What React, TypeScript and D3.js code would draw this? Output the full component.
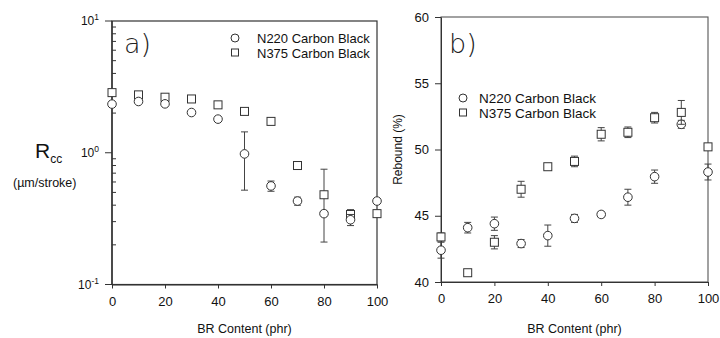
import React, { useRef, useEffect } from "react";
import * as d3 from "d3";

// BR content (phr), same for both panels
const brContent = [0, 10, 20, 30, 40, 50, 60, 70, 80, 90, 100];
const xTicks = [0, 20, 40, 60, 80, 100];

// panel a) abrasion rate Rcc (µm/stroke), log scale
const rccN220 = [2.34, 2.45, 2.35, 2.02, 1.8, 0.98, 0.56, 0.43, 0.345, 0.31, 0.43];
const rccN220Err = [0.08, 0.04, 0.04, 0, 0, 0.46, 0.05, 0.03, 0.015, 0.03, 0];
const rccN375 = [2.86, 2.75, 2.64, 2.56, 2.31, 2.06, 1.73, 0.8, 0.48, 0.34, 0.345];
const rccN375Err = [0.08, 0.1, 0.1, 0, 0, 0, 0, 0.05, 0.27, 0.03, 0];
const rccTicks = [0.1, 1, 10];
const rccTickExp = ["-1", "0", "1"];

// panel b) rebound (%)
const rebN220 = [42.4, 44.1, 44.4, 42.9, 43.5, 44.8, 45.1, 46.4, 47.95, 51.9, 48.3];
const rebN220Err = [0.6, 0.4, 0.5, 0.3, 0.8, 0.3, 0.2, 0.6, 0.5, 0.3, 0.6];
const rebN375 = [43.4, 40.7, 43.0, 47.0, 48.7, 49.1, 51.15, 51.3, 52.4, 52.8, 50.2];
const rebN375Err = [0.3, 0, 0.5, 0.6, 0, 0.4, 0.5, 0.4, 0.4, 0.9, 0];
const rebTicks = [40, 45, 50, 55, 60];

const seriesNames = ["N220 Carbon Black", "N375 Carbon Black"];

const FONT = "'Liberation Sans', Arial, sans-serif";
const INK = "#333";

const App: React.FC = () => {
    const svgRef = useRef<SVGSVGElement | null>(null);

    useEffect(() => {
        if (!svgRef.current) return;
        const width = 720;
        const height = 338;

        const svg = d3.select(svgRef.current)
            .attr("width", width)
            .attr("height", height)
            .attr("viewBox", `0 0 ${width} ${height}`)
            .style("position", "absolute")
            .style("left", "0px")
            .style("top", "0px")
            .style("background", "#fff")
            .style("font-family", FONT);

        svg.selectAll("*").remove();

        // scales
        const xL = d3.scaleLinear().domain([0, 100]).range([112, 377]);
        const yL = d3.scaleLog().domain([0.1, 10]).range([284.5, 21]);
        const xR = d3.scaleLinear().domain([0, 100]).range([441, 708]);
        const yR = d3.scaleLinear().domain([40, 60]).range([282, 17]);

        const styleAxis = (g: any) => {
            g.attr("font-family", FONT).attr("font-size", 13);
            g.selectAll("line").attr("stroke", INK);
            g.selectAll(".domain").attr("stroke", INK);
            g.selectAll("text").attr("fill", "#111");
        };

        // ---------- panel a ----------
        const a = svg.append("g");

        // box
        a.append("rect")
            .attr("x", xL(0)).attr("y", yL(10))
            .attr("width", xL(100) - xL(0)).attr("height", yL(0.1) - yL(10))
            .attr("fill", "none").attr("stroke", INK).attr("stroke-width", 1.2);

        a.append("g")
            .attr("transform", `translate(0,${yL(0.1)})`)
            .call(d3.axisBottom(xL).tickValues(xTicks).tickSize(4).tickPadding(8).tickSizeOuter(0))
            .call(styleAxis);

        // log y axis: major outward, minor inward
        const yAxisA = a.append("g").attr("transform", `translate(${xL(0)},0)`);
        yAxisA.append("line")
            .attr("y1", yL(10)).attr("y2", yL(0.1))
            .attr("stroke", INK).attr("stroke-width", 1.4);
        yAxisA.selectAll("line.major")
            .data(rccTicks)
            .join("line")
            .attr("class", "major")
            .attr("x1", -7).attr("x2", 0)
            .attr("y1", d => yL(d)).attr("y2", d => yL(d))
            .attr("stroke", INK);
        const minor = d3.range(2, 10).flatMap(m => [m * 0.1, m * 1]);
        yAxisA.selectAll("line.minor")
            .data(minor)
            .join("line")
            .attr("class", "minor")
            .attr("x1", 0).attr("x2", 4)
            .attr("y1", d => yL(d)).attr("y2", d => yL(d))
            .attr("stroke", INK);
        const tl = yAxisA.selectAll("text.tick")
            .data(rccTicks)
            .join("text")
            .attr("class", "tick")
            .attr("x", -13)
            .attr("y", d => yL(d) + 4)
            .attr("text-anchor", "end")
            .attr("font-size", 12)
            .attr("fill", "#111");
        tl.append("tspan").text("10");
        tl.append("tspan")
            .attr("dy", -5)
            .attr("font-size", 8.5)
            .text((_, i) => rccTickExp[i]);

        // y title R_cc
        const rt = a.append("text").attr("x", 35).attr("y", 158).attr("fill", "#111");
        rt.append("tspan").attr("font-size", 21).text("R");
        rt.append("tspan").attr("font-size", 12).attr("dy", 5).text("cc");
        a.append("text")
            .attr("x", 13).attr("y", 187)
            .attr("font-size", 12.5)
            .attr("fill", "#111")
            .text("(µm/stroke)");

        a.append("text")
            .attr("x", (xL(0) + xL(100)) / 2).attr("y", 333)
            .attr("text-anchor", "middle")
            .attr("font-size", 12.5)
            .attr("fill", "#111")
            .text("BR Content (phr)");

        a.append("text")
            .attr("x", 124).attr("y", 53)
            .attr("font-family", "'DejaVu Sans', sans-serif")
            .attr("font-weight", 200)
            .attr("font-size", 27)
            .attr("fill", "#222")
            .text("a)");

        drawSeries(a, xL, yL, rccN375, rccN375Err, "square");
        drawSeries(a, xL, yL, rccN220, rccN220Err, "circle");
        drawLegend(a, 235, 38, 257, 13);

        // ---------- panel b ----------
        const b = svg.append("g");

        b.append("rect")
            .attr("x", xR(0)).attr("y", yR(60))
            .attr("width", xR(100) - xR(0)).attr("height", yR(40) - yR(60))
            .attr("fill", "none").attr("stroke", "#555").attr("stroke-width", 1.1);

        b.append("g")
            .attr("transform", `translate(0,${yR(40)})`)
            .call(d3.axisBottom(xR).tickValues(xTicks).tickSize(4).tickPadding(8).tickSizeOuter(0))
            .call(styleAxis);

        b.append("g")
            .attr("transform", `translate(${xR(0)},0)`)
            .call(d3.axisLeft(yR).tickValues(rebTicks).tickSize(6).tickPadding(6).tickSizeOuter(0))
            .call(styleAxis);

        b.append("text")
            .attr("transform", `translate(402,${(yR(40) + yR(60)) / 2}) rotate(-90)`)
            .attr("text-anchor", "middle")
            .attr("font-size", 12)
            .attr("fill", "#111")
            .text("Rebound (%)");

        b.append("text")
            .attr("x", (xR(0) + xR(100)) / 2).attr("y", 333)
            .attr("text-anchor", "middle")
            .attr("font-size", 12.5)
            .attr("fill", "#111")
            .text("BR Content (phr)");

        b.append("text")
            .attr("x", 449).attr("y", 53)
            .attr("font-family", "'DejaVu Sans', sans-serif")
            .attr("font-weight", 200)
            .attr("font-size", 27)
            .attr("fill", "#222")
            .text("b)");

        drawSeries(b, xR, yR, rebN220, rebN220Err, "circle");
        drawSeries(b, xR, yR, rebN375, rebN375Err, "square");
        drawLegend(b, 463, 98, 479, 13.5);

        function drawSeries(g: any, x: any, y: any, vals: number[], errs: number[], shape: string) {
            const pts = brContent.map((c, i) => ({ c, v: vals[i], e: errs[i] }));
            const eb = g.append("g").attr("stroke", "#444").attr("stroke-width", 1);
            pts.filter(d => d.e > 0).forEach(d => {
                const cx = x(d.c);
                const y1 = y(d.v + d.e);
                const y2 = y(d.v - d.e);
                eb.append("line").attr("x1", cx).attr("x2", cx).attr("y1", y1).attr("y2", y2);
                eb.append("line").attr("x1", cx - 3.5).attr("x2", cx + 3.5).attr("y1", y1).attr("y2", y1);
                eb.append("line").attr("x1", cx - 3.5).attr("x2", cx + 3.5).attr("y1", y2).attr("y2", y2);
            });
            const m = g.append("g").attr("fill", "#fff").attr("stroke", "#333").attr("stroke-width", 1);
            if (shape === "circle") {
                m.selectAll("circle").data(pts).join("circle")
                    .attr("cx", (d: any) => x(d.c)).attr("cy", (d: any) => y(d.v)).attr("r", 4.3);
            } else {
                m.selectAll("rect").data(pts).join("rect")
                    .attr("x", (d: any) => x(d.c) - 4).attr("y", (d: any) => y(d.v) - 4)
                    .attr("width", 8).attr("height", 8);
            }
        }

        function drawLegend(g: any, mx: number, my: number, tx: number, fs: number) {
            const lg = g.append("g");
            lg.append("circle").attr("cx", mx).attr("cy", my).attr("r", 4)
                .attr("fill", "#fff").attr("stroke", "#333");
            lg.append("rect").attr("x", mx - 3.5).attr("y", my + 14.5 - 3.5).attr("width", 7).attr("height", 7)
                .attr("fill", "#fff").attr("stroke", "#333");
            lg.selectAll("text").data(seriesNames).join("text")
                .attr("x", tx)
                .attr("y", (_: any, i: number) => my + 5 + i * 14.5)
                .attr("font-size", fs)
                .attr("fill", "#111")
                .text((d: string) => d);
        }
    }, []);

    return <svg ref={svgRef} />;
};

export default App;
